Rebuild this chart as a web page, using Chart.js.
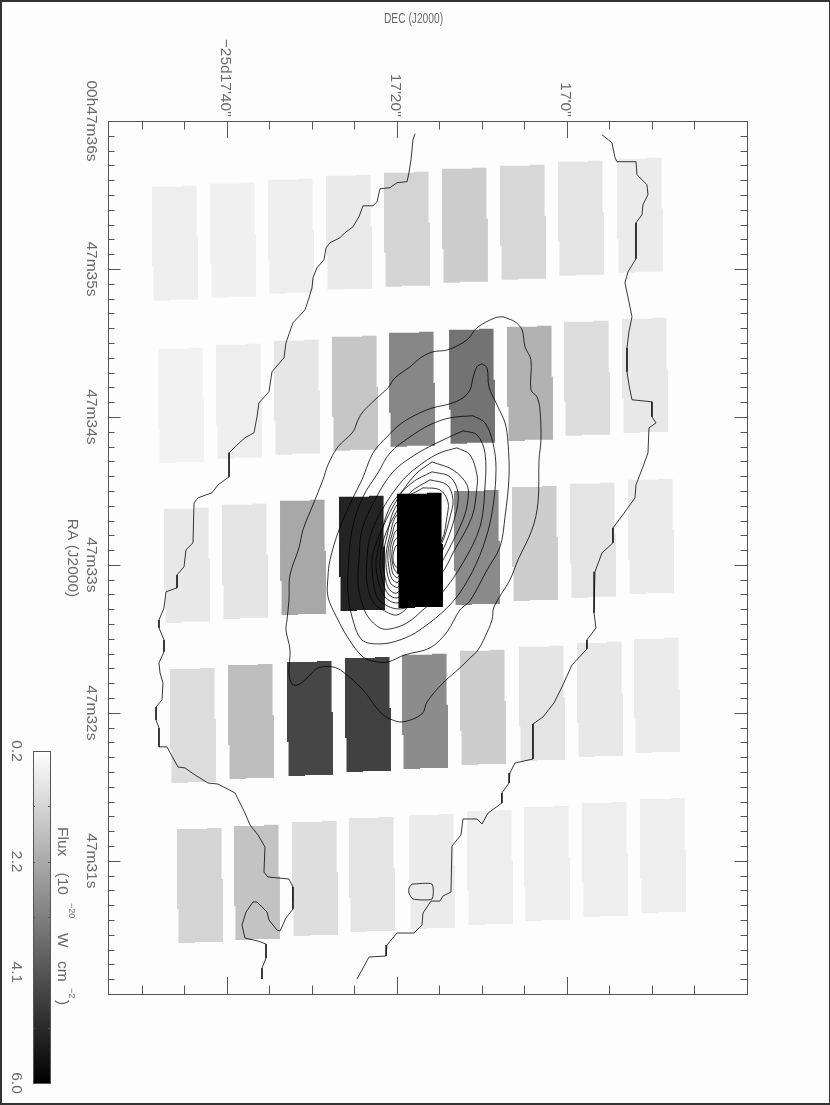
<!DOCTYPE html>
<html>
<head>
<meta charset="utf-8">
<title>DEC / RA flux map</title>
<script src="https://cdn.jsdelivr.net/npm/chart.js@4"></script>
<style>
  html, body { margin: 0; background: #fdfdfd; }
  #page { position: relative; width: 830px; height: 1105px; overflow: hidden; }
  #page canvas { position: absolute; }
  #frame { position: absolute; inset: 0; box-sizing: border-box; border: solid #333; border-width: 2px 1px 2px 2px; pointer-events: none; }
</style>
</head>
<body>
<div id="page">
  <canvas id="map" width="830" height="1105" style="left:0;top:0"></canvas>
  <canvas id="bar" width="100" height="375" style="left:0;top:730px"></canvas>
  <div id="frame"></div>
</div>
<script>
// --- Axes: DEC in arcsec from -25d17'40'', RA in seconds of time after 00h47m36s ---
const decTicks = [0, 20, 40];
const decLabels = ["\u221225d17'40''", "17'20''", "17'0''"];
const raTicks = [0, 1, 2, 3, 4, 5];
const raLabels = ['00h47m36s', '47m35s', '47m34s', '47m33s', '47m32s', '47m31s'];
const fluxTicks = [0.2, 1.167, 2.133, 3.1, 4.067, 5.033, 6.0];
const fluxLabels = ['0.2', '', '2.2', '', '4.1', '', '6.0'];

// --- Spaxels: top-left corners and flux, 5 rows of 9 ---
const spaxelDec = [
  -8.82, -2.00, 4.82, 11.65, 18.47, 25.29, 32.12, 38.94, 45.88,
  -8.12, -1.29, 5.53, 12.35, 19.06, 26.12, 32.94, 39.65, 46.47,
  -7.41, -0.59, 6.24, 13.18, 20.00, 26.71, 33.53, 40.35, 47.18,
  -6.71, 0.12, 7.06, 13.88, 20.59, 27.41, 34.35, 41.18, 47.88,
  -5.88, 0.82, 7.65, 14.35, 21.41, 28.24, 34.94, 41.76, 48.59
];
const spaxelRa = [
  .444, .424, .397, .370, .350, .323, .302, .275, .255,
  1.540, 1.512, 1.485, 1.458, 1.431, 1.411, 1.391, 1.357, 1.337,
  2.621, 2.594, 2.567, 2.540, 2.520, 2.500, 2.473, 2.452, 2.425,
  3.703, 3.676, 3.656, 3.629, 3.608, 3.581, 3.554, 3.527, 3.500,
  4.785, 4.764, 4.737, 4.710, 4.690, 4.663, 4.636, 4.609, 4.582
];
const spaxelFlux = [
  0.59, 0.54, 0.59, 0.68, 1.18, 1.34, 1.11, 0.81, 0.65,
  0.50, 0.59, 0.77, 1.50, 2.93, 3.39, 1.95, 1.00, 0.72,
  0.72, 0.81, 2.18, 5.20, 6.00, 2.86, 1.34, 0.81, 0.65,
  1.00, 1.68, 4.41, 4.52, 2.82, 1.34, 0.81, 0.72, 0.65,
  1.18, 1.57, 0.95, 0.81, 0.65, 0.59, 0.59, 0.59, 0.59
];
// stepped outline of one spaxel, relative to its corner
const outlineDec = [0, 3.53, 3.53, 5.24, 5.24, 5.41, 5.41, 2.12, 2.12, .18, .18, 0, 0];
const outlineRa = [0, 0, -.007, -.007, .338, .338, .764, .764, .771, .771, .541, .541, 0];

// --- Contours as [dec, ra] ---
const edgeLeft = [[22.12,.086],[21.88,.126],[21.65,.262],[21.41,.350],[21.18,.410],[20.00,.417],[19.18,.451],[18.00,.458],[17.65,.546],[17.18,.573],[16.00,.573],[15.53,.647],[14.82,.715],[13.88,.755],[13.29,.789],[12.12,.823],[11.65,.857],[11.41,.938],[10.59,.992],[10.12,1.059],[10.00,1.127],[9.65,1.195],[9.18,1.276],[7.76,1.364],[6.94,1.499],[6.71,1.600],[5.29,1.695],[4.94,1.830],[3.76,1.905],[3.53,1.999],[3.18,2.107],[2.12,2.141],[1.18,2.189],[.24,2.243],[.24,2.405],[-1.06,2.459],[-1.76,2.513],[-2.47,2.527],[-3.41,2.547],[-3.88,2.581],[-4.00,2.851],[-4.82,2.898],[-5.06,3.013],[-5.88,3.068],[-5.88,3.155],[-7.18,3.182],[-7.41,3.291],[-8.00,3.372],[-8.00,3.426],[-7.41,3.507],[-7.41,3.588],[-8.00,3.662],[-7.88,3.730],[-7.53,3.798],[-7.65,3.913],[-8.35,3.960],[-8.35,4.048],[-8.00,4.102],[-8.00,4.230],[-7.06,4.230],[-6.35,4.305],[-5.76,4.366],[-4.94,4.372],[-3.76,4.420],[-2.24,4.474],[-1.06,4.481],[.94,4.541],[1.53,4.609],[2.12,4.677],[2.71,4.758],[3.65,4.825],[4.47,4.907],[4.35,5.076],[4.82,5.109],[7.29,5.123],[7.76,5.177],[7.76,5.326],[6.94,5.386],[6.24,5.474],[5.88,5.468],[4.94,5.400],[4.71,5.346],[3.53,5.278],[3.06,5.278],[2.24,5.346],[1.76,5.434],[2.12,5.522],[3.65,5.542],[4.59,5.562],[4.59,5.657],[4.12,5.725],[4.12,5.799]];
const edgeRight = [[44.12,.093],[45.29,.147],[45.65,.248],[45.88,.275],[48.12,.275],[48.24,.363],[49.41,.431],[49.53,.498],[48.94,.566],[48.82,.634],[48.12,.688],[48.12,.931],[47.18,1.019],[46.82,1.093],[47.29,1.222],[47.65,1.323],[47.29,1.425],[47.06,1.533],[47.06,1.695],[47.29,1.783],[47.65,1.884],[50.00,1.898],[50.00,1.999],[50.47,2.040],[49.65,2.074],[49.53,2.243],[48.94,2.337],[48.12,2.459],[48.00,2.547],[46.82,2.642],[45.41,2.750],[45.41,2.851],[44.12,2.919],[43.29,3.047],[43.18,3.324],[43.41,3.426],[42.35,3.507],[42.35,3.568],[40.59,3.676],[39.41,3.825],[38.47,3.933],[37.18,4.028],[36.00,4.075],[36.00,4.312],[33.88,4.339],[33.29,4.406],[33.18,4.474],[32.35,4.541],[32.35,4.609],[30.71,4.677],[30.00,4.751],[29.41,4.717],[27.76,4.717],[27.53,4.825],[26.47,4.900],[26.35,5.211],[25.41,5.238],[25.06,5.272],[24.00,5.272],[23.06,5.353],[22.94,5.434],[22.00,5.488],[20.00,5.488],[18.82,5.569],[18.71,5.643],[16.71,5.650],[15.88,5.738],[15.29,5.799]];
const island = [[21.76,5.157],[24.12,5.157],[24.12,5.258],[21.88,5.258],[21.41,5.218],[21.41,5.184],[21.76,5.157]];
const level1 = [[32.47,1.323],[33.88,1.357],[34.71,1.411],[35.06,1.526],[35.76,1.614],[35.76,1.817],[36.47,1.864],[36.82,1.952],[36.94,2.155],[36.71,2.290],[36.59,2.581],[35.88,2.763],[34.24,2.966],[33.29,3.101],[31.41,3.284],[31.18,3.372],[30.35,3.487],[29.53,3.575],[28.59,3.629],[27.41,3.696],[25.41,3.798],[23.53,3.926],[22.94,4.007],[20.71,4.061],[19.18,4.041],[18.00,3.994],[16.00,3.845],[13.65,3.723],[12.47,3.690],[10.71,3.696],[9.41,3.764],[8.35,3.811],[7.65,3.805],[7.29,3.730],[7.41,3.575],[6.94,3.439],[7.06,3.372],[7.29,3.237],[7.41,3.068],[8.47,2.885],[8.94,2.763],[10.12,2.594],[11.29,2.425],[11.88,2.324],[13.06,2.202],[14.82,2.101],[15.41,2.020],[16.00,1.965],[17.41,1.884],[18.94,1.803],[19.76,1.736],[21.53,1.661],[22.94,1.594],[24.24,1.560],[26.00,1.546],[28.24,1.479],[29.41,1.398],[31.53,1.330],[32.47,1.323]];
const level2 = [[30.00,1.641],[30.59,1.668],[30.82,1.796],[31.76,1.918],[32.71,2.040],[33.06,2.175],[33.18,2.405],[32.71,2.675],[32.12,2.878],[30.59,3.034],[28.59,3.243],[27.41,3.304],[25.88,3.453],[23.88,3.561],[20.94,3.608],[18.94,3.656],[17.65,3.656],[16.00,3.622],[14.24,3.493],[12.94,3.358],[11.88,3.216],[11.88,3.081],[12.12,2.966],[13.18,2.763],[14.71,2.560],[15.88,2.425],[17.18,2.243],[18.82,2.135],[20.59,2.040],[22.71,1.972],[24.24,1.938],[26.24,1.911],[27.76,1.871],[28.59,1.817],[28.94,1.736],[29.41,1.661],[30.00,1.641]];
const level3 = [[28.94,1.992],[30.35,2.040],[31.29,2.175],[31.65,2.358],[31.18,2.648],[30.12,2.878],[28.35,3.101],[26.24,3.270],[22.71,3.439],[20.35,3.507],[18.00,3.534],[15.88,3.507],[14.71,3.351],[14.24,3.189],[14.24,3.054],[14.71,2.763],[16.00,2.540],[17.76,2.378],[19.18,2.243],[21.53,2.135],[23.88,2.053],[26.24,2.006],[28.94,1.992]];
const level4 = [[27.76,2.094],[29.41,2.121],[30.35,2.243],[30.35,2.473],[29.76,2.743],[27.76,2.986],[25.29,3.189],[23.06,3.304],[21.18,3.392],[19.18,3.433],[18.00,3.426],[16.59,3.351],[15.88,3.257],[15.41,3.122],[15.53,2.966],[15.88,2.763],[17.41,2.560],[19.53,2.371],[22.12,2.256],[24.71,2.175],[27.76,2.094]];
const level5 = [[27.06,2.209],[28.59,2.256],[29.41,2.391],[29.41,2.473],[28.82,2.675],[26.59,2.919],[25.29,3.054],[21.76,3.257],[20.00,3.338],[18.35,3.304],[17.18,3.250],[16.47,3.122],[16.47,2.966],[16.82,2.811],[18.24,2.628],[20.71,2.425],[23.06,2.310],[25.06,2.243],[27.06,2.209]];
const level6 = [[24.12,2.304],[26.59,2.358],[28.24,2.459],[28.35,2.560],[27.76,2.696],[25.88,2.919],[25.29,2.980],[23.29,3.169],[21.53,3.277],[20.00,3.297],[18.47,3.264],[17.53,3.203],[17.06,3.013],[17.18,2.919],[18.35,2.743],[20.00,2.560],[22.12,2.391],[24.12,2.304]];
const level7 = [[24.12,2.371],[26.24,2.405],[27.18,2.513],[26.82,2.675],[25.29,2.912],[23.29,3.101],[21.53,3.216],[20.00,3.257],[18.82,3.230],[18.00,3.149],[17.53,3.013],[17.76,2.898],[19.18,2.608],[21.76,2.445],[24.12,2.371]];
const level8 = [[23.88,2.425],[25.88,2.459],[26.59,2.560],[26.24,2.675],[25.29,2.851],[23.29,3.034],[21.53,3.169],[20.00,3.223],[18.94,3.196],[18.35,3.115],[18.00,3.000],[18.24,2.865],[19.41,2.696],[21.53,2.513],[23.88,2.425]];
const level9 = [[23.06,2.479],[25.06,2.493],[26.00,2.574],[25.88,2.675],[25.29,2.831],[23.29,3.000],[20.00,3.189],[19.06,3.162],[18.59,3.081],[18.35,2.966],[18.71,2.831],[20.00,2.594],[23.06,2.479]];
const level10 = [[20.00,3.155],[19.29,3.128],[18.82,3.047],[18.71,2.932],[19.18,2.797],[20.00,2.662],[22.71,2.560],[24.59,2.662],[23.29,2.966],[20.00,3.155]];
const level11 = [[20.00,3.122],[19.41,3.095],[19.06,3.020],[18.94,2.919],[19.41,2.797],[20.00,2.709],[22.71,2.628],[23.88,2.729],[22.71,2.966],[20.00,3.122]];
const level12 = [[20.00,3.088],[19.53,3.061],[19.29,2.993],[19.18,2.912],[19.53,2.817],[20.00,2.763],[22.47,2.709],[23.18,2.831],[22.12,2.966],[20.00,3.088]];
const level13 = [[20.00,3.054],[19.65,3.027],[19.41,2.966],[19.41,2.912],[19.65,2.844],[20.00,2.817],[22.12,2.763],[22.47,2.865],[21.53,2.966],[20.00,3.054]];
const level14 = [[20.00,3.020],[19.65,2.993],[19.53,2.939],[19.76,2.885],[20.00,2.865],[21.53,2.831],[21.76,2.898],[20.94,2.980],[20.00,3.020]];

const TEXT = '#6a6a6a';
// black with some alpha: greys out over white, disappears into the black spaxels
const LINE = 'rgba(0,0,0,0.78)';
const FONT = '15.5px "Liberation Sans"';

function fluxColor(f) {
  const g = Math.round(255 * (1 - (f - 0.2) / 5.8));
  return `rgb(${g},${g},${g})`;
}

// text turned 90 degrees clockwise, the way the whole plot is turned
function sideText(ctx, text, x, y, align = 'center', font = FONT, wordGap = '0px') {
  ctx.save();
  ctx.translate(x, y);
  ctx.rotate(Math.PI / 2);
  ctx.font = font;
  ctx.wordSpacing = wordGap;
  ctx.fillStyle = TEXT;
  ctx.textAlign = align;
  ctx.textBaseline = 'middle';
  ctx.fillText(text, 0, 0);
  ctx.restore();
}

function hLine(ctx, x1, x2, y) {
  ctx.beginPath();
  ctx.moveTo(x1, Math.round(y) + .5);
  ctx.lineTo(x2, Math.round(y) + .5);
  ctx.stroke();
}
function vLine(ctx, x, y1, y2) {
  ctx.beginPath();
  ctx.moveTo(Math.round(x) + .5, y1);
  ctx.lineTo(Math.round(x) + .5, y2);
  ctx.stroke();
}

const spaxelSets = spaxelFlux.map((flux, i) => ({
  data: outlineDec.map((d, k) => ({ x: spaxelDec[i] + d, y: spaxelRa[i] + outlineRa[k] })),
  showLine: true,
  borderWidth: 0,
  pointRadius: 0,
  fill: 'shape',
  backgroundColor: fluxColor(flux),
  order: 2,
}));

function contourSet(points, tension) {
  return {
    data: points.map(p => ({ x: p[0], y: p[1] })),
    showLine: true,
    borderColor: LINE,
    borderWidth: 1,
    pointRadius: 0,
    tension,
    fill: false,
    order: 1,
  };
}

const contourSets = [
  contourSet(edgeLeft, 0), contourSet(edgeRight, 0), contourSet(island, 0.2),
  ...[level1, level2, level3, level4, level5, level6, level7, level8, level9,
      level10, level11, level12, level13, level14].map(l => contourSet(l, 0.35)),
];

// ticks point inward on all four sides, labels sit on the top and left only
const mapFrame = {
  id: 'mapFrame',
  afterDatasetsDraw(chart) {
    const { ctx, chartArea: a, scales: { x, y } } = chart;
    ctx.save();
    ctx.strokeStyle = '#555';
    ctx.lineWidth = 1;
    ctx.strokeRect(a.left + .5, a.top + .5, a.right - a.left, a.bottom - a.top);
    x.ticks.forEach(t => {
      if (t.value > 55) return;
      const px = x.getPixelForValue(t.value);
      const len = decTicks.includes(t.value) ? 17 : 8.5;
      vLine(ctx, px, a.top, a.top + len);
      vLine(ctx, px, a.bottom - len, a.bottom);
    });
    y.ticks.forEach(t => {
      const py = y.getPixelForValue(t.value);
      const major = Math.abs(t.value - Math.round(t.value)) < 0.01;
      const len = major ? 12.5 : 6.5;
      hLine(ctx, a.left, a.left + len, py);
      hLine(ctx, a.right - len, a.right, py);
    });
    ctx.restore();
    decTicks.forEach((v, i) => sideText(ctx, decLabels[i], x.getPixelForValue(v) - 2, a.top - 4, 'right'));
    raTicks.forEach((v, i) => sideText(ctx, raLabels[i], 91, y.getPixelForValue(v)));
    sideText(ctx, 'RA (J2000)', 72, 558);
    // the DEC title is squeezed sideways like the rest of the picture
    ctx.save();
    ctx.translate(413.5, 19);
    ctx.scale(0.66, 1);
    ctx.font = FONT;
    ctx.fillStyle = TEXT;
    ctx.textAlign = 'center';
    ctx.textBaseline = 'middle';
    ctx.fillText('DEC (J2000)', 0, 0);
    ctx.restore();
  },
};

new Chart(document.getElementById('map'), {
  type: 'scatter',
  data: { datasets: [...contourSets, ...spaxelSets] },
  options: {
    responsive: false,
    animation: false,
    devicePixelRatio: 1,
    layout: { padding: { left: 108, top: 121, right: 83, bottom: 111 } },
    plugins: { legend: { display: false }, tooltip: { enabled: false } },
    scales: {
      x: {
        type: 'linear', position: 'top', min: -14, max: 61.18,
        grid: { display: false, drawTicks: false }, border: { display: false },
        ticks: { display: false, stepSize: 5 },
      },
      y: {
        type: 'linear', reverse: true, min: 0, max: 5.9,
        grid: { display: false, drawTicks: false }, border: { display: false },
        ticks: { display: false, stepSize: 0.1 },
      },
    },
  },
  plugins: [mapFrame],
});

// --- Colour bar ---
const barFrame = {
  id: 'barFrame',
  afterDatasetsDraw(chart) {
    const { ctx, chartArea: a, scales: { y } } = chart;
    ctx.save();
    ctx.strokeStyle = '#555';
    ctx.lineWidth = 1;
    ctx.strokeRect(a.left + .5, a.top + .5, a.right - a.left, a.bottom - a.top);
    fluxTicks.forEach(v => {
      const py = y.getPixelForValue(v);
      hLine(ctx, a.left, a.left + 2, py);
      hLine(ctx, a.right - 2, a.right, py);
    });
    ctx.restore();
    fluxTicks.forEach((v, i) => {
      if (fluxLabels[i]) sideText(ctx, fluxLabels[i], 16.5, y.getPixelForValue(v));
    });
    const small = '9px "Liberation Sans"';
    sideText(ctx, 'Flux (10', 62, 97, 'left', FONT, '12px');
    sideText(ctx, '\u221220', 71, 173, 'left', small);
    sideText(ctx, 'W cm', 62, 203, 'left', FONT, '9px');
    sideText(ctx, '\u22122', 71, 258, 'left', small);
    sideText(ctx, ')', 62, 270, 'left');
  },
};

new Chart(document.getElementById('bar'), {
  type: 'bar',
  data: {
    labels: ['flux'],
    datasets: [{
      data: [[fluxTicks[0], fluxTicks[fluxTicks.length - 1]]],
      barPercentage: 1,
      categoryPercentage: 1,
      backgroundColor(c) {
        const { ctx, chartArea } = c.chart;
        if (!chartArea) return '#888';
        const grad = ctx.createLinearGradient(0, chartArea.top, 0, chartArea.bottom);
        grad.addColorStop(0, '#ffffff');
        grad.addColorStop(1, '#000000');
        return grad;
      },
    }],
  },
  options: {
    responsive: false,
    animation: false,
    devicePixelRatio: 1,
    layout: { padding: { left: 33, top: 21, right: 50, bottom: 22 } },
    plugins: { legend: { display: false }, tooltip: { enabled: false } },
    scales: {
      x: { display: false },
      y: { display: false, reverse: true, min: 0.2, max: 6.0 },
    },
  },
  plugins: [barFrame],
});
</script>
</body>
</html>
